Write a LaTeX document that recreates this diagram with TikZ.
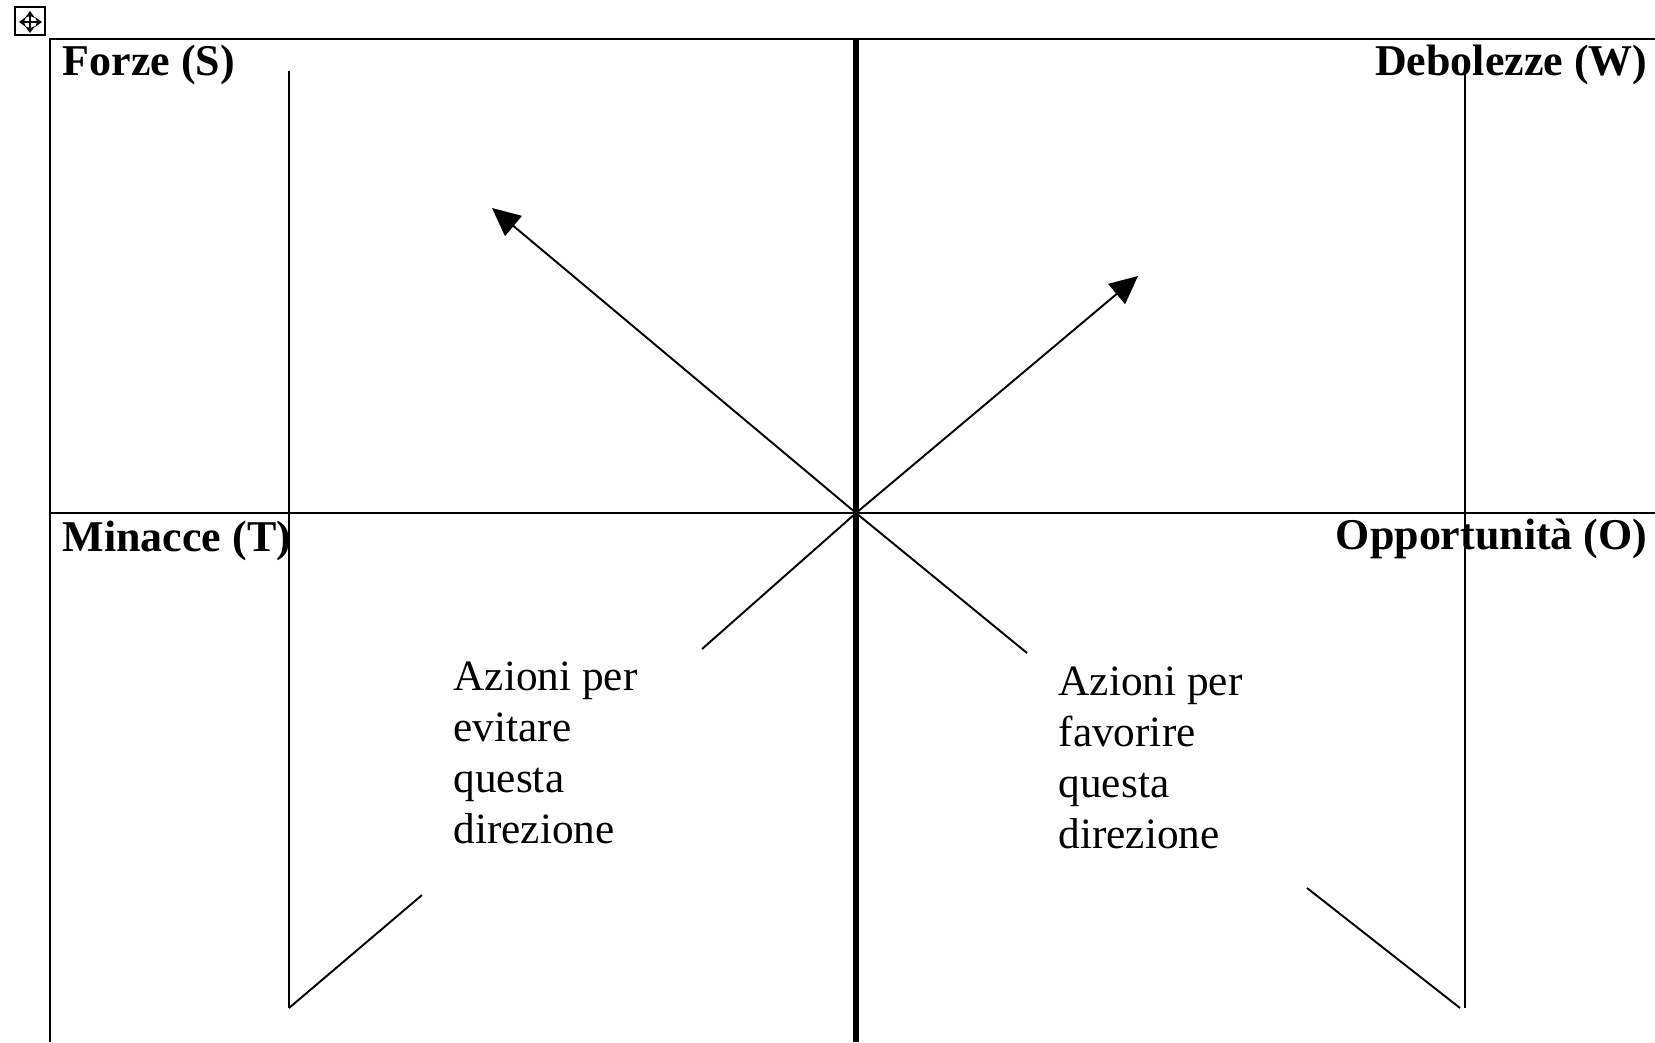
\documentclass[tikz,border=0pt]{standalone}
\usepackage{fontspec}
\setmainfont{Liberation Serif}
\usetikzlibrary{arrows.meta}
\tikzset{titolo/.style = {font=\fontsize{12.5}{15}\selectfont\bfseries, inner sep=0pt},
         testo/.style = {font=\fontsize{12.3}{14.5}\selectfont, align=left, inner sep=0pt},
         linea/.style = {line width=0.55pt},
         freccia/.style = {linea, -{Triangle[length=2.8mm,width=2.6mm]}}}

\begin{document}
\begin{tikzpicture}[x=0.01cm, y=-0.01cm]
            \useasboundingbox (0,0) rectangle (1655,1042);

            % maniglia della tabella
            \node [draw, line width=0.6pt, minimum width=0.3cm, minimum height=0.28cm, inner sep=0pt] (maniglia) at (30,21) {};
            \draw [line width=0.4pt, {Stealth[length=0.7mm,width=1mm]}-{Stealth[length=0.7mm,width=1mm]}] (19,22) -- (42,22);
            \draw [line width=0.4pt, {Stealth[length=0.7mm,width=1mm]}-{Stealth[length=0.7mm,width=1mm]}] (30,11) -- (30,33);

            % cornice e assi
            \draw [line width=0.7pt] (1655,39) -- (50,39) -- (50,1042);
            \draw [line width=1.6pt] (856,39) -- (856,1042);
            \draw [line width=0.7pt] (50,513) -- (1655,513);
            \draw [linea] (289,71) -- (289,1008);
            \draw [linea] (1465,65) -- (1465,1008);

            \node [titolo, anchor=base west] (forze)       at (62,75)    {Forze (S)};
            \node [titolo, anchor=base east] (debolezze)   at (1648,75)  {Debolezze (W)};
            \node [titolo, anchor=base west] (minacce)     at (62,551)   {Minacce (T)};
            \node [titolo, anchor=base east] (opportunita) at (1648,549) {Opportunità (O)};

            \node [testo, anchor=north west] (evitare)  at (453,661)  {Azioni per\\evitare\\questa\\direzione};
            \node [testo, anchor=north west] (favorire) at (1058,666) {Azioni per\\favorire\\questa\\direzione};

            % direzioni
            \coordinate (centro)  at (856,513);
            \coordinate (puntaS)  at (492,208);
            \coordinate (puntaW)  at (1138,276);
            \coordinate (angoloT) at (289,1008);
            \coordinate (angoloO) at (1460,1008);
            \coordinate (taglioT1) at (702,649);
            \coordinate (taglioT2) at (422,895);
            \coordinate (taglioO1) at (1027,653);
            \coordinate (taglioO2) at (1307,888);

            \draw [freccia] (centro) -- (puntaS);
            \draw [freccia] (centro) -- (puntaW);
            \draw [linea] (centro) -- (taglioT1);
            \draw [linea] (taglioT2) -- (angoloT);
            \draw [linea] (centro) -- (taglioO1);
            \draw [linea] (taglioO2) -- (angoloO);
        \end{tikzpicture}
\end{document}
